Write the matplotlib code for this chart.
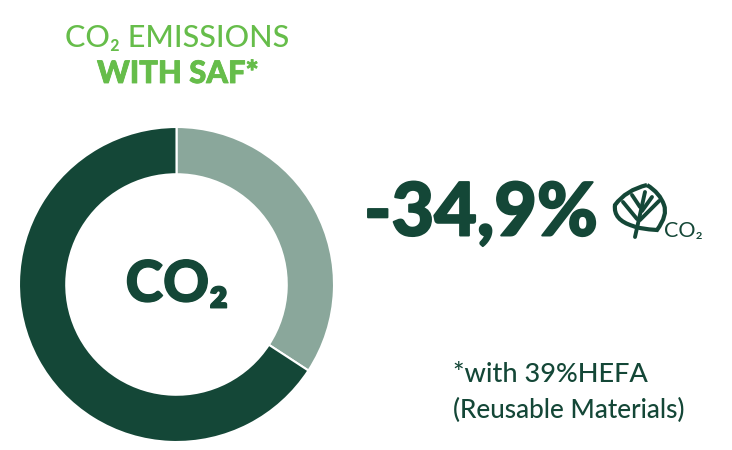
import matplotlib
matplotlib.use("Agg")
import matplotlib.pyplot as plt
import matplotlib.patheffects as pe
from matplotlib.path import Path
from matplotlib.patches import PathPatch

plt.rcParams['font.family'] = ['Lato', 'DejaVu Sans']

# share as drawn in the picture (the ring is a bit short of the printed 34,9)
saf_share = 34.2
rest_share = 100 - saf_share
shares = [saf_share, rest_share]
colors = ['#8aa79b', '#144737']
dark = '#144737'
green = '#66bd4a'

W, H = 732, 450
fig = plt.figure(figsize=(W/100, H/100), dpi=100)

ax = fig.add_axes([0, 0, 1, 1])
ax.set_xlim(0, W)
ax.set_ylim(H, 0)
ax.axis('off')

# donut
pie_ax = fig.add_axes([19/W, 1-442/H, 315/W, 315/H])
pie_ax.pie(shares, colors=colors, startangle=90, counterclock=False, radius=1,
           wedgeprops=dict(width=0.3, edgecolor='white', linewidth=1.5))
pie_ax.set_xlim(-1, 1)
pie_ax.set_ylim(-1, 1)

# the font's black weight is lighter than the original, so thicken it a bit
def thick(w, c):
    return [pe.withStroke(linewidth=w, foreground=c)]

ax.text(177, 38, 'CO₂ EMISSIONS', color=green, fontsize=22, ha='center', va='center', fontweight='medium')
ax.text(178, 74, 'WITH SAF*', color=green, fontsize=22.3, ha='center', va='center', fontweight='black',
        path_effects=thick(0.6, green))
ax.text(177, 285, 'CO₂', color=dark, fontsize=41, ha='center', va='center', fontweight='black',
        path_effects=thick(1.0, dark))
ax.text(364, 214, '-34,9%', color=dark, fontsize=53, ha='left', va='center', fontweight='black',
        path_effects=thick(1.4, dark))
ax.text(664, 231, 'CO₂', color=dark, fontsize=15.5, ha='left', va='center')
ax.text(453, 375, '*with 39%HEFA', color=dark, fontsize=19.5, ha='left', va='center', fontweight='medium')
ax.text(453, 410, '(Reusable Materials)', color=dark, fontsize=18.8, ha='left', va='center', fontweight='medium')

# leaf icon
leaf = Path([(647, 185), (626, 190), (615, 205), (613, 220), (633, 226), (640, 229),
             (657, 230), (668, 215), (664, 205), (660, 193), (647, 185)],
            [Path.MOVETO, Path.CURVE3, Path.CURVE3, Path.CURVE3, Path.CURVE3, Path.CURVE3,
             Path.CURVE3, Path.CURVE3, Path.CURVE3, Path.CURVE3, Path.CURVE3])
ax.add_patch(PathPatch(leaf, fc='none', ec=dark, lw=3))
veins = [((635, 237), (645, 192)), ((640, 220), (659, 201)), ((642, 211), (652, 197)),
         ((637, 219), (623, 202)), ((640, 207), (632, 195))]
for (x0, y0), (x1, y1) in veins:
    ax.plot([x0, x1], [y0, y1], color=dark, lw=2.8, solid_capstyle='round')

fig.savefig('out.png', dpi=100)
